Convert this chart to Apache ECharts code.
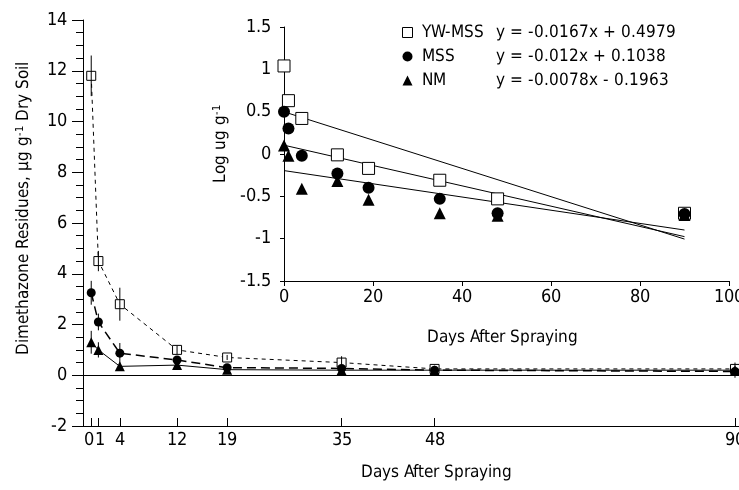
<!DOCTYPE html>
<html>
<head>
<meta charset="utf-8">
<script src="https://cdn.jsdelivr.net/npm/echarts@6/dist/echarts.min.js"></script>
<style>
@font-face {
	font-family: 'Cond';
	src: local('Liberation Sans Narrow'), local('LiberationSansNarrow-Regular'),
		local('DejaVu Sans Condensed'), local('DejaVuSansCondensed'),
		local('Noto Sans Condensed'), local('NotoSans-Condensed'),
		local('Roboto Condensed'), local('RobotoCondensed-Regular');
}
html, body { margin: 0; padding: 0; background: #fff; }
#chart { width: 739px; height: 490px; }
</style>
</head>
<body>
<div id="chart"></div>
<script>
var FONT = "Cond, 'Liberation Sans', sans-serif";

// sampling days
var days = [0, 1, 4, 12, 19, 35, 48, 90];
var dayTicks = [0, 1, 4, 12, 19, 35, 48, 90];
// day 1 label sits on its own axis so it is not dropped next to day 0
var dayLabels = [0, 4, 12, 19, 35, 48, 90];
var dayLabels2 = [1];

// residues, ug/g dry soil (main chart)
var ywMain = [11.8, 4.5, 2.8, 1.0, 0.7, 0.5, 0.25, 0.25];
var mssMain = [3.25, 2.1, 0.87, 0.6, 0.3, 0.27, 0.2, 0.15];
var nmMain = [1.3, 1.0, 0.35, 0.4, 0.22, 0.2, 0.2, 0.2];
// error bars (+/-)
var ywErr = [0.8, 0.4, 0.65, 0.17, 0.1, 0.25, 0, 0];
var mssErr = [0.47, 0.33, 0.4, 0.1, 0.1, 0, 0, 0];
var nmErr = [0.45, 0.3, 0, 0, 0, 0, 0, 0.3];

// log residues (inset)
var ywLog = [1.04, 0.63, 0.42, -0.01, -0.17, -0.31, -0.53, -0.7];
var mssLog = [0.5, 0.3, -0.02, -0.23, -0.4, -0.53, -0.7, -0.71];
var nmLog = [0.1, -0.02, -0.41, -0.32, -0.54, -0.7, -0.73, -0.72];

// regression lines, end points at day 0 and day 90
var fitX = [0, 90];
var ywFit = [0.498, -1.005];
var mssFit = [0.104, -0.976];
var nmFit = [-0.196, -0.898];

var names = ['YW-MSS', 'MSS', 'NM'];
var equations = ['y = -0.0167x + 0.4979', 'y = -0.012x + 0.1038', 'y = -0.0078x - 0.1963'];

function pairs(xs, ys) {
	var out = [];
	for (var i = 0; i < xs.length; i++) {
		out.push([xs[i], ys[i]]);
	}
	return out;
}
function errData(xs, ys, es) {
	var out = [];
	for (var i = 0; i < xs.length; i++) {
		if (es[i] > 0) out.push([xs[i], ys[i] - es[i], ys[i] + es[i]]);
	}
	return out;
}

var black = '#000';
var tick = { color: black, fontFamily: FONT, fontSize: 18 };
var txt = { color: black, fontFamily: FONT, fontSize: 17 };
var openSq = { color: '#fff', borderColor: black, borderWidth: 1, opacity: 1 };
var filled = { color: black, opacity: 1 };

var errSeries = function(data) {
	return {
		type: 'custom',
		xAxisIndex: 0,
		yAxisIndex: 0,
		z: 5,
		silent: true,
		data: data,
		encode: { x: 0, y: [1, 2] },
		renderItem: function(params, api) {
			var x = api.value(0);
			var p1 = api.coord([x, api.value(1)]);
			var p2 = api.coord([x, api.value(2)]);
			return {
				type: 'line',
				shape: { x1: p1[0], y1: p1[1], x2: p2[0], y2: p2[1] },
				style: { stroke: black, lineWidth: 1 }
			};
		}
	};
};

var fitSeries = function(ys) {
	return {
		type: 'line',
		name: 'fit',
		xAxisIndex: 1,
		yAxisIndex: 1,
		symbol: 'none',
		silent: true,
		lineStyle: { color: black, width: 1 },
		data: pairs(fitX, ys),
		z: 3
	};
};

var supRich = {
	t: { fontSize: 17, fontFamily: FONT, color: black },
	s: { fontSize: 11, fontFamily: FONT, color: black, verticalAlign: 'top', padding: [0, 0, 7, 0] }
};

function draw() {
	var myChart = echarts.init(document.getElementById('chart'), null, { renderer: 'canvas' });
	myChart.setOption({
		animation: false,
		backgroundColor: '#fff',
		textStyle: { fontFamily: FONT },
		grid: [
			{ left: 83, right: 0, top: 20, bottom: 64, containLabel: false, outerBoundsMode: 'none' },
			{ left: 284, width: 445, top: 27, height: 254, containLabel: false, outerBoundsMode: 'none' }
		],
		legend: {
			orient: 'vertical',
			left: 402,
			top: 24,
			padding: 0,
			itemWidth: 10,
			itemHeight: 10,
			itemGap: 7,
			selectedMode: false,
			data: [
				{ name: 'YW-MSS', icon: 'rect', itemStyle: openSq },
				{ name: 'MSS', icon: 'circle', itemStyle: filled },
				{ name: 'NM', icon: 'triangle', itemStyle: filled }
			],
			formatter: function(name) {
				var i = names.indexOf(name);
				return '{a|' + name + '}{b|' + equations[i] + '}';
			},
			textStyle: {
				color: black,
				fontFamily: FONT,
				fontSize: 17,
				rich: {
					a: { width: 74, padding: [0, 0, 0, 4], fontSize: 17, fontFamily: FONT, color: black },
					b: { fontSize: 17, fontFamily: FONT, color: black }
				}
			}
		},
		xAxis: [
			{
				type: 'value',
				gridIndex: 0,
				position: 'bottom',
				min: -1.15,
				max: 90.56,
				splitLine: { show: false },
				axisLine: { onZero: false, lineStyle: { color: black, width: 1 } },
				axisTick: { customValues: dayTicks, inside: true, length: 8, lineStyle: { color: black } },
				axisLabel: Object.assign({
					customValues: dayLabels, margin: 5, hideOverlap: false, showMinLabel: true, showMaxLabel: true,
					formatter: function(v) { return v === 0 ? '{l|0}' : String(v); },
					rich: { l: { fontSize: 18, fontFamily: FONT, color: black, padding: [0, 5, 0, 0] } }
				}, tick),
				name: 'Days After Spraying',
				nameLocation: 'middle',
				nameGap: 38,
				nameTextStyle: Object.assign({ padding: [0, 0, 0, 50] }, txt)
			},
			{
				type: 'value',
				gridIndex: 1,
				min: 0,
				max: 100,
				interval: 20,
				splitLine: { show: false },
				axisLine: { onZero: false, lineStyle: { color: black, width: 1 } },
				axisTick: { inside: false, length: 5, lineStyle: { color: black } },
				axisLabel: Object.assign({ margin: 7, hideOverlap: false, showMinLabel: true, showMaxLabel: true }, tick),
				name: 'Days After Spraying',
				nameLocation: 'middle',
				nameGap: 48,
				nameTextStyle: Object.assign({ padding: [0, 8, 0, 0] }, txt)
			},
			{
				type: 'value',
				gridIndex: 0,
				position: 'bottom',
				offset: 0,
				min: -1.15,
				max: 90.56,
				splitLine: { show: false },
				axisLine: { show: false, onZero: false },
				axisTick: { show: false },
				axisLabel: Object.assign({
					customValues: dayLabels2, margin: 5, hideOverlap: false, showMinLabel: true, showMaxLabel: true,
					formatter: function(v) { return '{r|' + v + '}'; },
					rich: { r: { fontSize: 18, fontFamily: FONT, color: black, padding: [0, 0, 0, 3] } }
				}, tick)
			}
		],
		yAxis: [
			{
				type: 'value',
				gridIndex: 0,
				min: -2,
				max: 14,
				interval: 2,
				splitLine: { show: false },
				minorSplitLine: { show: false },
				axisLine: { show: true, onZero: false, lineStyle: { color: black, width: 1 } },
				axisTick: { show: true, inside: false, length: 11, lineStyle: { color: black } },
				minorTick: { show: true, splitNumber: 4, length: 7, lineStyle: { color: black } },
				axisLabel: Object.assign({ margin: 16, showMinLabel: true, showMaxLabel: true }, tick),
				name: '{t|Dimethazone Residues, \u00b5g g}{s|-1}{t| Dry Soil}',
				nameLocation: 'middle',
				nameRotate: 90,
				nameGap: 50,
				nameTextStyle: Object.assign({ padding: [0, 0, 0, 30], rich: supRich }, txt)
			},
			{
				type: 'value',
				gridIndex: 1,
				min: -1.5,
				max: 1.5,
				interval: 0.5,
				splitLine: { show: false },
				axisLine: { show: true, onZero: false, lineStyle: { color: black, width: 1 } },
				axisTick: { show: true, inside: false, length: 4, lineStyle: { color: black } },
				axisLabel: Object.assign({ margin: 13, showMinLabel: true, showMaxLabel: true }, tick),
				name: '{t|Log ug g}{s|-1}',
				nameLocation: 'middle',
				nameRotate: 90,
				nameGap: 52,
				nameTextStyle: Object.assign({ padding: [0, 0, 0, 20], rich: supRich }, txt)
			}
		],
		series: [
			{
				type: 'line',
				name: 'YW-MSS',
				xAxisIndex: 0,
				yAxisIndex: 0,
				symbol: 'rect',
				symbolSize: 9,
				itemStyle: openSq,
				lineStyle: { color: black, width: 1, type: [4, 4] },
				data: pairs(days, ywMain),
				z: 4
			},
			{
				type: 'line',
				name: 'MSS',
				xAxisIndex: 0,
				yAxisIndex: 0,
				symbol: 'circle',
				symbolSize: 9,
				itemStyle: filled,
				lineStyle: { color: black, width: 1.5, type: [9, 5] },
				data: pairs(days, mssMain),
				z: 4
			},
			{
				type: 'line',
				name: 'NM',
				xAxisIndex: 0,
				yAxisIndex: 0,
				symbol: 'triangle',
				symbolSize: 10,
				itemStyle: filled,
				lineStyle: { color: black, width: 1 },
				data: pairs(days, nmMain),
				z: 4,
				markLine: {
					silent: true,
					symbol: 'none',
					label: { show: false },
					lineStyle: { color: black, type: 'solid', width: 1 },
					data: [{ yAxis: 0 }]
				}
			},
			errSeries(errData(days, ywMain, ywErr)),
			errSeries(errData(days, mssMain, mssErr)),
			errSeries(errData(days, nmMain, nmErr)),
			{
				type: 'scatter',
				name: 'YW-MSS',
				xAxisIndex: 1,
				yAxisIndex: 1,
				symbol: 'rect',
				symbolSize: 12,
				itemStyle: openSq,
				data: pairs(days, ywLog),
				z: 4
			},
			{
				type: 'scatter',
				name: 'MSS',
				xAxisIndex: 1,
				yAxisIndex: 1,
				symbol: 'circle',
				symbolSize: 12,
				itemStyle: filled,
				data: pairs(days, mssLog),
				z: 5
			},
			{
				type: 'scatter',
				name: 'NM',
				xAxisIndex: 1,
				yAxisIndex: 1,
				symbol: 'triangle',
				symbolSize: 12,
				itemStyle: filled,
				data: pairs(days, nmLog),
				z: 4
			},
			fitSeries(ywFit),
			fitSeries(mssFit),
			fitSeries(nmFit)
		]
	});
}

if (document.fonts && document.fonts.load) {
	document.fonts.load('20px Cond').then(draw, draw);
} else {
	draw();
}
</script>
</body>
</html>
